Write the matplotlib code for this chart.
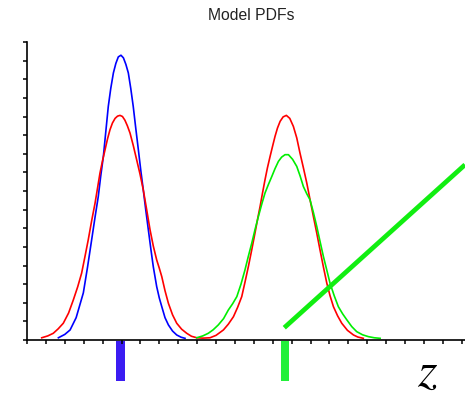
import numpy as np
import matplotlib
matplotlib.use("Agg")
import matplotlib.pyplot as plt

# Narrow model PDF (blue)
blue_x = [1.66, 2.00, 2.28, 2.60, 2.98, 3.20, 3.42, 3.60, 3.77, 3.90, 4.04, 4.17,
          4.30, 4.43, 4.57, 4.70, 4.83, 4.97, 5.10, 5.23, 5.36, 5.49, 5.62, 5.75,
          5.89, 6.02, 6.15, 6.28, 6.42, 6.55, 6.68, 6.86, 7.00, 7.13, 7.30, 7.48,
          7.70, 7.92, 8.15, 8.36]
blue_y = [0.12, 0.30, 0.54, 1.20, 2.53, 3.90, 5.38, 6.60, 7.70, 8.80, 9.86, 11.20,
          12.54, 13.50, 14.34, 14.85, 15.20, 15.29, 15.15, 14.80, 14.34, 13.50, 12.54, 11.40,
          10.22, 9.10, 8.07, 7.00, 5.91, 4.90, 3.94, 2.87, 2.25, 1.79, 1.20, 0.81,
          0.48, 0.27, 0.15, 0.09]

# Two-component model PDF (red)
red_x = [0.78, 1.10, 1.39, 1.65, 1.92, 2.20, 2.45, 2.68, 2.89, 3.07, 3.24, 3.42,
         3.60, 3.73, 3.86, 4.00, 4.13, 4.26, 4.39, 4.52, 4.66, 4.79, 4.92, 5.05,
         5.18, 5.31, 5.45, 5.62, 5.80, 5.98, 6.15, 6.33, 6.51, 6.68, 6.86, 7.00,
         7.13, 7.30, 7.48, 7.70, 7.92, 8.18, 8.45, 8.70, 8.98, 9.30, 9.68, 10.00,
         10.39, 10.65, 10.92, 11.14, 11.36, 11.53, 11.71, 11.89, 12.06, 12.20, 12.33, 12.46,
         12.59, 12.72, 12.86, 12.99, 13.12, 13.25, 13.39, 13.55, 13.72, 13.90, 14.09, 14.27,
         14.44, 14.62, 14.80, 14.97, 15.15, 15.33, 15.50, 15.68, 15.86, 16.03, 16.21, 16.43,
         16.65, 16.95, 17.27, 17.50, 17.79]
red_y = [0.12, 0.22, 0.36, 0.60, 0.90, 1.45, 2.15, 2.85, 3.59, 4.50, 5.38, 6.40,
         7.35, 8.15, 8.96, 9.65, 10.22, 10.80, 11.29, 11.65, 11.90, 12.02, 12.06, 12.00,
         11.80, 11.50, 11.11, 10.45, 9.68, 8.90, 8.07, 7.00, 5.91, 5.05, 4.30, 3.85,
         3.40, 2.65, 1.97, 1.35, 0.90, 0.58, 0.36, 0.20, 0.12, 0.10, 0.12, 0.25,
         0.54, 0.85, 1.25, 1.75, 2.33, 3.10, 3.94, 4.85, 5.74, 6.50, 7.17, 7.90,
         8.60, 9.25, 9.86, 10.40, 10.93, 11.38, 11.74, 11.98, 12.06, 11.90, 11.47, 10.85,
         10.04, 9.25, 8.43, 7.55, 6.63, 5.73, 4.84, 3.92, 3.05, 2.38, 1.79, 1.30,
         0.90, 0.52, 0.27, 0.16, 0.09]

# Wide model PDF (green)
green_x = [8.98, 9.30, 9.59, 9.85, 10.12, 10.40, 10.65, 10.88, 11.10, 11.32, 11.53, 11.71,
           11.89, 12.06, 12.24, 12.42, 12.59, 12.77, 12.95, 13.12, 13.30, 13.47, 13.65, 13.83,
           14.05, 14.27, 14.45, 14.62, 14.80, 14.97, 15.15, 15.33, 15.50, 15.68, 15.86, 16.03,
           16.25, 16.47, 16.70, 16.92, 17.18, 17.44, 17.75, 18.06, 18.37, 18.68]
green_y = [0.12, 0.22, 0.36, 0.55, 0.81, 1.15, 1.61, 1.95, 2.33, 3.00, 3.76, 4.50,
           5.20, 5.92, 6.63, 7.30, 7.89, 8.35, 8.78, 9.20, 9.59, 9.82, 9.95, 9.95,
           9.70, 9.32, 8.80, 8.24, 7.85, 7.53, 6.85, 6.09, 5.30, 4.48, 3.75, 3.05,
           2.38, 1.79, 1.40, 1.08, 0.72, 0.45, 0.28, 0.18, 0.12, 0.09]

# Straight green line
trend_x = [13.61, 23.17]
trend_y = [0.66, 9.41]

# Marker bars under the axis
bar_x = [4.93, 13.65]
bar_colors = ["#3b1cf2", "#22f03a"]
bar_depth = 2.15

fig = plt.figure(figsize=(4.65, 3.98), dpi=100)
ax = fig.add_axes([27 / 465, 58 / 398, 438 / 465, 298 / 398])

ax.plot(blue_x, blue_y, color="#0000ff", lw=1.2)
ax.plot(red_x, red_y, color="#ff0000", lw=1.2)
ax.plot(green_x, green_y, color="#00ee00", lw=1.2)
ax.plot(trend_x, trend_y, color="#11ee11", lw=3.4, solid_capstyle="butt", clip_on=False)

for bx, bc in zip(bar_x, bar_colors):
    ax.bar(bx, -bar_depth, width=0.47, bottom=-0.05, color=bc, clip_on=False,
           align="center", linewidth=0)

ax.set_xlim(0, 23.17)
ax.set_ylim(0, 16)
ax.set_xticks(np.arange(0, 24))
ax.set_yticks(np.arange(0, 17))
ax.set_xticklabels([])
ax.set_yticklabels([])
ax.tick_params(axis="both", direction="out", length=3.2, width=1.1, color="black")
for side in ("top", "right"):
    ax.spines[side].set_visible(False)
for side in ("left", "bottom"):
    ax.spines[side].set_linewidth(1.2)

fig.text(251 / 465, 1 - 16 / 398, "Model PDFs", ha="center", va="center",
         fontsize=11.3, family="Liberation Sans", color="#222222")
fig.text(428 / 465, 1 - 386 / 398, r"$z$", ha="center", va="baseline",
         fontsize=36, math_fontfamily="stix", color="black")

fig.savefig("out.png", dpi=100)
